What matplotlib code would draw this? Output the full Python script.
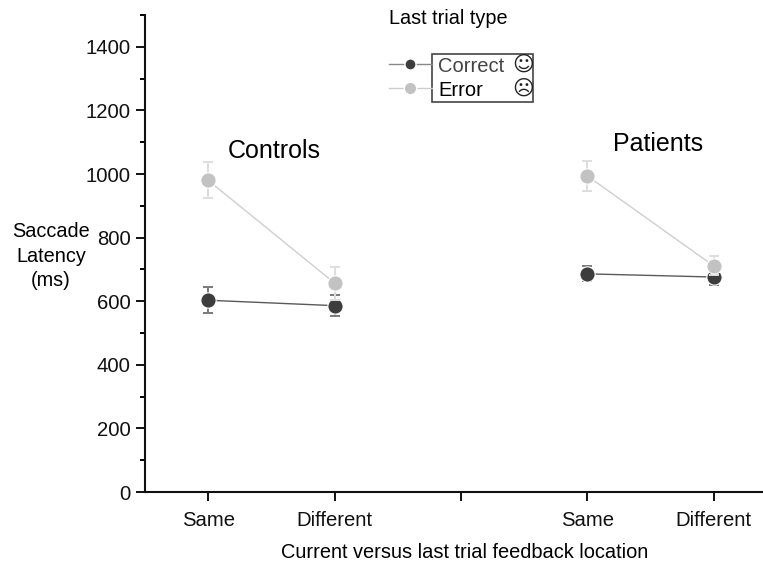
import matplotlib
matplotlib.use('Agg')
import matplotlib.pyplot as plt
from matplotlib.patches import Rectangle

plt.rcParams['font.family'] = ['Liberation Sans', 'DejaVu Sans']

# data
tick_pos = [1, 2, 3, 4, 5]
tick_labels = ['Same', 'Different', '', 'Same', 'Different']

ctrl_x = [1, 2]
pat_x = [4, 5]

ctrl_correct = [603, 586]
ctrl_correct_err = [41, 34]
ctrl_error = [980, 657]
ctrl_error_err = [57, 52]

pat_correct = [686, 676]
pat_correct_err = [24, 24]
pat_error = [994, 711]
pat_error_err = [46, 30]

dark = '#3d3d3d'
light = '#c2c2c2'
dark_line = '#5a5a5a'
light_line = '#cfcfcf'
dark_bar = '#7a7a7a'
light_bar = '#dedede'

fig = plt.figure(figsize=(7.63, 5.70), dpi=100)
ax = fig.add_axes([145 / 763, 78 / 570, 618 / 763, 477 / 570])


def draw_series(x, y, err, col, linecol, barcol, z):
    ax.plot(x, y, '-', color=linecol, lw=1.0, zorder=z)
    ax.errorbar(x, y, yerr=err, fmt='none', ecolor=barcol, elinewidth=1.4,
                capsize=3.8, capthick=1.4, zorder=z)
    ax.plot(x, y, 'o', color=col, ms=11, mec='white', mew=0.8, zorder=z + 1)


draw_series(ctrl_x, ctrl_correct, ctrl_correct_err, dark, dark_line, dark_bar, 2)
draw_series(pat_x, pat_correct, pat_correct_err, dark, dark_line, dark_bar, 2)
draw_series(ctrl_x, ctrl_error, ctrl_error_err, light, light_line, light_bar, 4)
draw_series(pat_x, pat_error, pat_error_err, light, light_line, light_bar, 4)

ax.set_xlim(0.5, 5.39)
ax.set_ylim(0, 1500)
ax.set_yticks(range(0, 1401, 200))
ax.set_yticks(range(100, 1501, 200), minor=True)
ax.set_xticks(tick_pos)
ax.set_xticklabels(tick_labels)
ax.tick_params(axis='both', which='major', labelsize=14.6, length=6.5, width=1.4, colors='#111111')
ax.tick_params(axis='y', which='minor', length=3.5, width=1.4)
ax.tick_params(axis='x', pad=7)
ax.tick_params(axis='y', pad=4)
for s in ['top', 'right']:
    ax.spines[s].set_visible(False)
for s in ['left', 'bottom']:
    ax.spines[s].set_linewidth(1.5)
    ax.spines[s].set_color('#111111')

ax.text(1.52, 1034, 'Controls', fontsize=18, ha='center', va='bottom')
ax.text(4.56, 1057, 'Patients', fontsize=18, ha='center', va='bottom')

fig.text(51 / 763, 1 - 256 / 570, 'Saccade\nLatency\n(ms)', fontsize=14.3, ha='center', va='center',
         linespacing=1.35)
fig.text(465 / 763, 1 - 553 / 570, 'Current versus last trial feedback location', fontsize=14.4,
         ha='center', va='center')
fig.text(448 / 763, 1 - 19 / 570, 'Last trial type', fontsize=14.3, ha='center', va='center')

# legend, handles sit outside the box like in the original
leg = fig.add_axes([0, 0, 1, 1])
leg.set_xlim(0, 763)
leg.set_ylim(570, 0)
leg.axis('off')
leg.patch.set_alpha(0)
leg.add_patch(Rectangle((432, 54), 101, 48, fc='white', ec='#444444', lw=1.2))
leg.plot([389, 432], [64, 64], '-', color='#888888', lw=1)
leg.plot([389, 432], [88, 88], '-', color='#cccccc', lw=1)
leg.plot([410], [64], 'o', color=dark, ms=8, mec='white', mew=1)
leg.plot([410], [88], 'o', color=light, ms=9, mec='white', mew=1)
leg.text(438, 67, 'Correct', fontsize=14.5, color='#444444', va='center')
leg.text(438, 90, 'Error', fontsize=14.5, color='black', va='center')
leg.text(523, 65, '\u263a', fontsize=15, color='#222222', ha='center', va='center', family='DejaVu Sans')
leg.text(523, 89, '\u2639', fontsize=15, color='#222222', ha='center', va='center', family='DejaVu Sans')

fig.savefig('out.png', dpi=100)
